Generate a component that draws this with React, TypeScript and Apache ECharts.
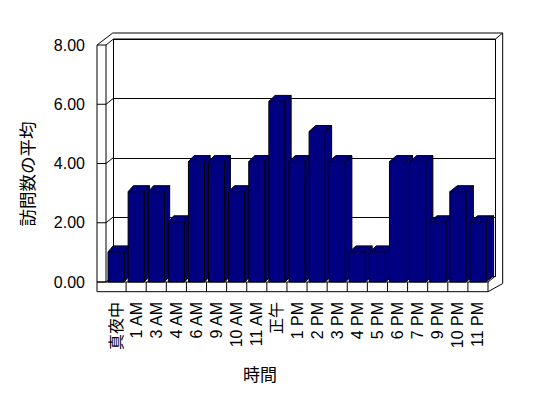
import React, { useEffect, useRef } from "react";
import * as echarts from "echarts";

const categories = [
  "真夜中", "1 AM", "3 AM", "4 AM", "6 AM", "9 AM", "10 AM", "11 AM", "正午",
  "1 PM", "2 PM", "3 PM", "4 PM", "5 PM", "6 PM", "7 PM", "9 PM", "10 PM", "11 PM",
];
const avgVisits = [1, 3, 3, 2, 4, 4, 3, 4, 6, 4, 5, 4, 1, 1, 4, 4, 2, 3, 2];
const yTicks = [0, 2, 4, 6, 8];
const yAxisTitle = "訪問数の平均";
const xAxisTitle = "時間";

const FONT = "'Liberation Sans', Arial, 'Noto Sans CJK JP', sans-serif";
const NAVY = "#000080";
const WALL = 9; // left wall thickness (px)
const FLOOR = 9.7; // floor thickness (px)
const DX = 7.5;
const DY = -6;

export default function App() {
  const ref = useRef<HTMLDivElement>(null);
  useEffect(() => {
    if (!ref.current) return;
    const chart = echarts.init(ref.current, undefined, { renderer: "svg" });
    const lineStyle = { stroke: "#000", lineWidth: 1, fill: null };
    const ln = (x1: number, y1: number, x2: number, y2: number) => ({
      type: "line",
      shape: { x1, y1, x2, y2 },
      style: lineStyle,
    });

    chart.setOption({
      animation: false,
      backgroundColor: "#fff",
      textStyle: { fontFamily: FONT },
      grid: [
        { left: 106, top: 45, width: 382, height: 237, containLabel: false },
        {
          left: 113.5, top: 39, width: 382, height: 237.5,
          show: true, borderColor: "#000", borderWidth: 1, backgroundColor: "transparent",
        },
      ],
      xAxis: [
        {
          type: "category",
          gridIndex: 0,
          data: categories,
          boundaryGap: true,
          axisLine: { show: false },
          axisTick: { show: false },
          axisLabel: {
            rotate: 90,
            margin: 20,
            interval: 0,
            color: "#000",
            fontSize: 16,
            fontFamily: FONT,
          },
          name: xAxisTitle,
          nameLocation: "middle",
          nameGap: 85,
          nameTextStyle: {
            color: "#000",
            fontSize: 17,
            fontFamily: FONT,
            padding: [0, 74, 0, 0],
          },
        },
        {
          type: "category",
          gridIndex: 1,
          data: categories,
          show: false,
        },
      ],
      yAxis: [
        {
          type: "value",
          gridIndex: 0,
          min: 0,
          max: 8,
          interval: 2,
          axisLine: { show: false },
          axisTick: { show: false },
          splitLine: { show: false },
          axisLabel: {
            margin: 21,
            color: "#000",
            fontSize: 16,
            fontFamily: FONT,
            formatter: (v: number) => v.toFixed(2),
          },
          name: yAxisTitle,
          nameLocation: "middle",
          nameGap: 69,
          nameRotate: 90,
          nameTextStyle: {
            color: "#000",
            fontSize: 17.5,
            fontFamily: FONT,
            padding: [0, 21, 0, 0],
          },
        },
        {
          type: "value",
          gridIndex: 0,
          min: 0,
          max: 7.874,
          show: false,
        },
        {
          type: "value",
          gridIndex: 1,
          min: 0,
          max: 8,
          interval: 2,
          axisLine: { show: false },
          axisTick: { show: false },
          axisLabel: { show: false },
          splitLine: { show: true, lineStyle: { color: "#000", width: 1 } },
        },
      ],
      series: [
        {
          // frame of the 3D box
          type: "custom",
          xAxisIndex: 0,
          yAxisIndex: 0,
          z: 1,
          silent: true,
          data: [[0, 0]],
          renderItem: (params: any) => {
            const cs = params.coordSys;
            const gx = cs.x, gy = cs.y, gr = cs.x + cs.width, gb = cs.y + cs.height;
            return {
              type: "group",
              children: [
                ln(gx - WALL, gy, gx - WALL, gb + FLOOR),
                ln(gx, gy, gx, gb),
                ln(gx - WALL, gb + FLOOR, gr, gb + FLOOR),
                ln(gx - WALL, gb, gr, gb),
                ln(gr, gb, gr, gb + FLOOR),
                ln(gr, gb, gr + DX, gb + DY),
                ln(gr, gb + FLOOR, gr + 14.7, gb + 1.5),
                ln(gr + 14.7, gb + 1.5, gr + 14.7, gy - 12),
                ln(gx - WALL, gy, gx + 6.7, gy - 12),
                ln(gx + 6.7, gy - 12, gr + 14.7, gy - 12),
                ln(gr + DX, gy + DY, gr + 14.7, gy - 12),
              ],
            };
          },
        },
        {
          // ticks on the left wall
          type: "custom",
          xAxisIndex: 0,
          yAxisIndex: 0,
          z: 1,
          silent: true,
          data: yTicks.map((t) => [0, t]),
          renderItem: (params: any, api: any) => {
            const gx = params.coordSys.x;
            const y = api.coord([0, api.value(1)])[1];
            return {
              type: "group",
              children: [ln(gx - WALL, y, gx, y), ln(gx, y, gx + DX, y + DY)],
            };
          },
        },
        {
          // 3D bars
          type: "custom",
          xAxisIndex: 0,
          yAxisIndex: 1,
          z: 3,
          data: avgVisits.map((v, i) => [i, v]),
          renderItem: (params: any, api: any) => {
            const cs = params.coordSys;
            const i = api.value(0);
            const v = api.value(1);
            const top = api.coord([i, v]);
            const base = api.coord([i, 0]);
            const band = api.size([1, 0])[0];
            const w = band * 0.8;
            const x0 = top[0] - w / 2;
            const x1 = top[0] + w / 2;
            const yt = top[1];
            const yb = base[1];
            const dx = 5 + 2.7 * ((top[0] - cs.x) / cs.width);
            const dy = -6;
            const faceStyle = { fill: NAVY, stroke: "#000", lineWidth: 1 };
            const children: any[] = [
              {
                type: "polygon",
                shape: { points: [[x1, yt], [x1 + dx, yt + dy], [x1 + dx, yb + dy], [x1, yb]] },
                style: faceStyle,
              },
              {
                type: "polygon",
                shape: { points: [[x0, yt], [x1, yt], [x1 + dx, yt + dy], [x0 + dx, yt + dy]] },
                style: faceStyle,
              },
              {
                type: "rect",
                shape: { x: x0, y: yt, width: w, height: yb - yt },
                style: faceStyle,
              },
            ];
            if (i > 0) {
              const bx = top[0] - band / 2;
              children.push(ln(bx, yb, bx, yb + FLOOR));
            }
            return { type: "group", children };
          },
        },
      ],
    });
    return () => chart.dispose();
  }, []);
  return <div ref={ref} style={{ width: 548, height: 398, margin: -8 }} />;
}
